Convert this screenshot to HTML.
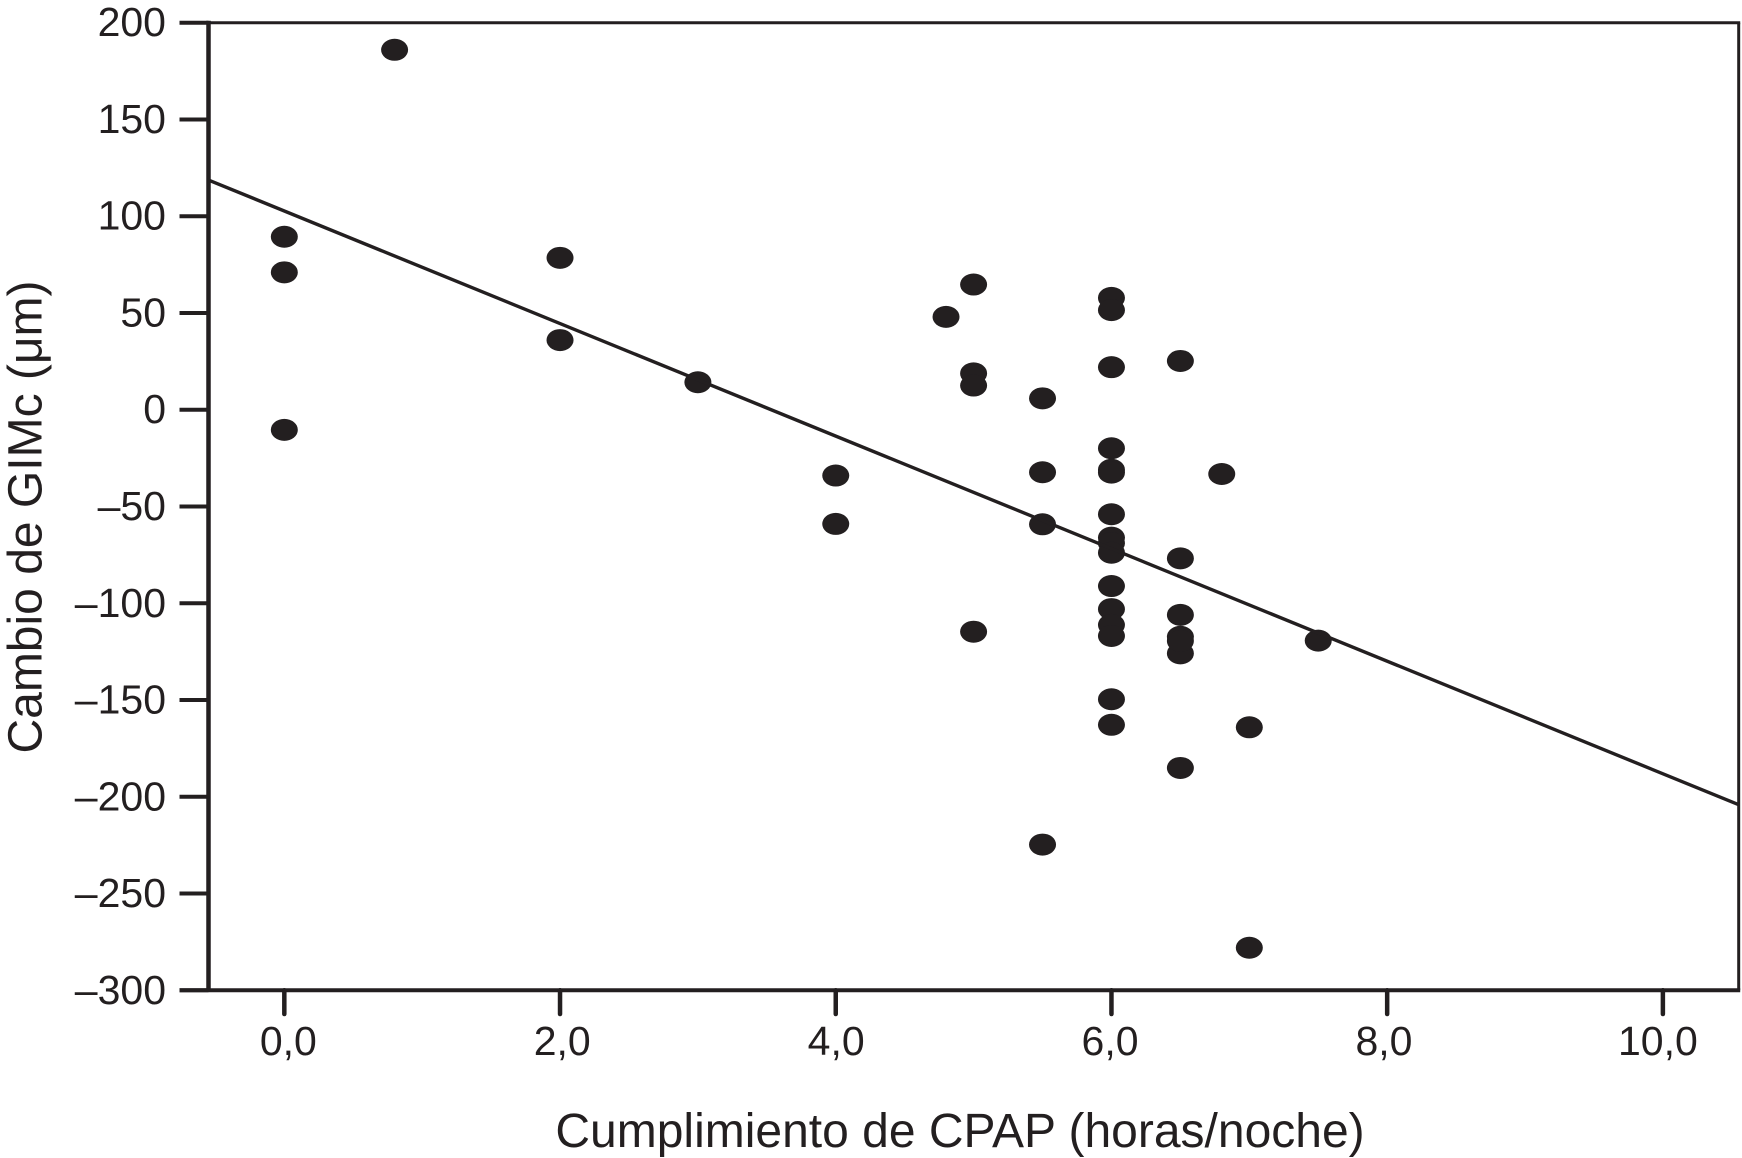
<!DOCTYPE html>
<html lang="es">
<head>
<meta charset="utf-8">
<title>Cambio de GIMc frente a cumplimiento de CPAP</title>
<style>
html,body{margin:0;padding:0;background:#fff;width:1742px;height:1158px;overflow:hidden}
svg{display:block}
text{font-family:"Liberation Sans",Arial,sans-serif;fill:#231f20}
</style>
</head>
<body>
<svg id="chart" xmlns="http://www.w3.org/2000/svg" width="1742" height="1158" viewBox="0 0 1742 1158">
  <rect x="0" y="0" width="1742" height="1158" fill="#fff"/>
  <g id="marks"></g>
  <g id="axes"></g>
  <text x="960" y="1147" font-size="48" text-anchor="middle">Cumplimiento de CPAP (horas/noche)</text>
  <text transform="translate(41.7 517) rotate(-90)" font-size="48" text-anchor="middle">Cambio de GIMc (μm)</text>
</svg>
<script>
const xTickValues = [0, 2, 4, 6, 8, 10];
const xTickLabels = ['0,0', '2,0', '4,0', '6,0', '8,0', '10,0'];
const yTickValues = [200, 150, 100, 50, 0, -50, -100, -150, -200, -250, -300];
const yTickLabels = ['200', '150', '100', '50', '0', '–50', '–100', '–150', '–200', '–250', '–300'];
const pointHours = [0.8, 0, 0, 0, 2, 2, 3, 4, 4, 4.8, 5, 5, 5, 5, 5.5, 5.5, 5.5, 5.5,
  6, 6, 6, 6, 6, 6, 6, 6, 6, 6, 6, 6, 6, 6, 6, 6,
  6.5, 6.5, 6.5, 6.5, 6.5, 6.5, 6.5, 6.8, 7, 7, 7.5];
const pointChange = [186, 89.4, 71, -10.4, 78.5, 36, 14.2, -34, -59, 48, 64.7, 18.8, 12.5, -114.7, 5.9, -32.3, -59.2, -224.7,
  57.8, 51.5, 22, -19.9, -31, -32.5, -54, -66.1, -68.9, -73.9, -91.1, -103, -111.2, -116.9, -149.6, -162.8,
  25.2, -76.8, -106, -117.3, -125.9, -185.1, -119.5, -33.2, -164.1, -278, -119.3];
const fitLineHours = [-0.55, 10.55];
const fitLineChange = [118.7, -204.1];

const xDomain = [-0.55, 10.55];
const yDomain = [-300, 200];
const plot = {left: 208.5, right: 1738.7, top: 22.7, bottom: 990.3};
const INK = '#231f20';
const NS = 'http://www.w3.org/2000/svg';

function xScale(v) {
  return plot.left + (v - xDomain[0]) / (xDomain[1] - xDomain[0]) * (plot.right - plot.left);
}
function yScale(v) {
  return plot.bottom - (v - yDomain[0]) / (yDomain[1] - yDomain[0]) * (plot.bottom - plot.top);
}
function xLabelPos(v) {
  return xScale(v) + 4 - 0.9 * v;
}
function make(tag, attrs, parent) {
  const el = document.createElementNS(NS, tag);
  for (const k in attrs) el.setAttribute(k, attrs[k]);
  parent.appendChild(el);
  return el;
}

const axes = document.getElementById('axes');
const marks = document.getElementById('marks');

pointHours.forEach(function (h, i) {
  const dot = make('ellipse', {cx: xScale(h), cy: yScale(pointChange[i]), rx: 13.5, ry: 11, fill: INK}, marks);
  
  
});

const fit = make('line', {
  x1: xScale(fitLineHours[0]), y1: yScale(fitLineChange[0]),
  x2: xScale(fitLineHours[1]), y2: yScale(fitLineChange[1]),
  stroke: INK, 'stroke-width': 3.4
}, marks);



const spineTop = make('line', {x1: plot.left, y1: plot.top, x2: plot.right + 1.5, y2: plot.top, stroke: INK, 'stroke-width': 3}, axes);



const spineRight = make('line', {x1: plot.right, y1: plot.top, x2: plot.right, y2: plot.bottom, stroke: INK, 'stroke-width': 3}, axes);



const spineLeft = make('line', {x1: plot.left, y1: plot.top - 2, x2: plot.left, y2: plot.bottom, stroke: INK, 'stroke-width': 4.5}, axes);



const spineBottom = make('line', {x1: 179.5, y1: plot.bottom, x2: plot.right + 1.5, y2: plot.bottom, stroke: INK, 'stroke-width': 4}, axes);



xTickValues.forEach(function (v, i) {
  const x = xScale(v);
  const tick = make('line', {x1: x, y1: plot.bottom, x2: x, y2: 1014, stroke: INK, 'stroke-width': 4.5, 'stroke-linecap': 'round'}, axes);
  
  
  const label = make('text', {x: xLabelPos(v), y: 1055, 'font-size': 41, 'text-anchor': 'middle'}, axes);
  
  
  label.textContent = xTickLabels[i];
});

yTickValues.forEach(function (v, i) {
  const y = yScale(v);
  const tick = make('line', {x1: 179.5, y1: y, x2: plot.left, y2: y, stroke: INK, 'stroke-width': 4}, axes);
  
  
  const label = make('text', {x: 166, y: y + 13.5, 'font-size': 41, 'text-anchor': 'end'}, axes);
  
  
  label.textContent = yTickLabels[i];
});
</script>
</body>
</html>
